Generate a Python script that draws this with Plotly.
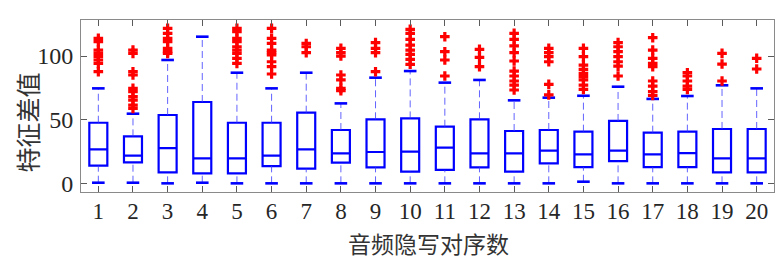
import plotly.graph_objects as go

pairs = list(range(1, 21))
tick_labels = [str(i) for i in pairs]
q1 = [13.9, 16.5, 8.6, 7.9, 7.9, 13.6, 11.5, 16.2, 12.6, 9.2, 10.5, 12.6, 9.2, 15.7, 12.8, 17.5, 12.8, 12.8, 8.6, 8.6]
median = [26.7, 21.7, 27.7, 19.6, 19.6, 21.7, 26.7, 23.6, 24.6, 24.9, 28.0, 23.6, 23.6, 25.7, 22.8, 25.7, 22.8, 23.8, 19.6, 19.6]
q3 = [47.6, 36.9, 53.7, 63.9, 47.6, 47.6, 55.5, 41.9, 50.3, 51.0, 44.5, 50.3, 41.1, 41.9, 40.6, 49.0, 39.8, 40.6, 42.7, 42.7]
whisker_low = [0.5, 0.5, 0.0, 0.5, 0.0, 0.0, 0.0, 0.0, 0.0, 0.0, 0.0, 0.0, 0.0, 0.0, 1.3, 0.0, 0.0, 0.0, 0.0, 0.0]
whisker_high = [74.6, 54.7, 96.9, 115.2, 86.9, 74.6, 86.9, 62.8, 83.0, 88.2, 79.1, 81.2, 65.2, 67.3, 68.8, 75.9, 66.3, 68.6, 77.0, 74.6]
outliers = [
    [113.9, 111.3, 104.7, 102.1, 99.5, 96.9, 94.2, 87.7],
    [104.7, 102.1, 87.7, 85.1, 74.6, 72.0, 68.1, 65.4, 61.5, 58.9],
    [121.7, 117.8, 113.9, 111.3, 106.0, 103.4, 102.1],
    [],
    [121.7, 119.1, 113.9, 111.3, 107.3, 104.7, 102.1, 98.2, 94.2],
    [121.7, 113.9, 109.9, 104.7, 102.6, 100.8, 95.5, 91.6, 85.9],
    [109.9, 107.3, 102.6],
    [106.0, 102.6, 100.0, 85.1, 81.2, 74.6, 72.8],
    [110.5, 106.0, 102.6, 87.7],
    [120.9, 117.8, 113.1, 108.6, 104.7, 101.3, 97.4, 93.5],
    [115.2, 103.4, 96.9, 84.3],
    [105.2, 99.0, 91.6],
    [117.8, 113.1, 107.9, 102.6, 96.1, 88.2, 84.3, 80.4, 77.2, 73.3],
    [106.0, 102.6, 99.5, 95.5, 77.7, 69.5],
    [106.0, 99.5, 92.9, 89.5, 86.4, 83.8, 81.2, 77.2, 73.8],
    [110.5, 107.3, 103.4, 99.5, 95.5, 92.1, 84.3],
    [114.4, 104.7, 98.2, 94.2, 91.6, 80.4, 76.4, 72.0, 69.0],
    [86.9, 84.3, 80.4, 76.4, 73.8],
    [102.1, 93.7, 80.4],
    [98.2, 89.8],
]
x_title = "音频隐写对序数"
y_title = "特征差值"

BLUE = "#0000ff"
RED = "#ff0000"

fig = go.Figure()

# dashed whiskers
wx, wy = [], []
for i, x in enumerate(pairs):
    wx += [x, x, None, x, x, None]
    wy += [q3[i], whisker_high[i], None, whisker_low[i], q1[i], None]
fig.add_trace(go.Scatter(x=wx, y=wy, mode="lines",
                         line=dict(color="rgba(60,60,255,0.8)", width=1, dash="7px,4px"),
                         hoverinfo="skip", showlegend=False))

# boxes
fig.add_trace(go.Box(x=pairs, q1=q1, median=median, q3=q3,
                     lowerfence=q1, upperfence=q3,
                     width=0.52, whiskerwidth=0,
                     line=dict(color=BLUE, width=2.2),
                     fillcolor="rgba(0,0,0,0)",
                     boxpoints=False, showlegend=False))

# caps
fig.add_trace(go.Scatter(x=pairs + pairs, y=whisker_high + whisker_low, mode="markers",
                         marker=dict(symbol="line-ew", size=9, color=BLUE,
                                     line=dict(color=BLUE, width=2.6)),
                         hoverinfo="skip", showlegend=False))

# outliers
ox, oy = [], []
for i, x in enumerate(pairs):
    for v in outliers[i]:
        ox.append(x)
        oy.append(v)
fig.add_trace(go.Scatter(x=ox, y=oy, mode="markers",
                         marker=dict(symbol="cross", size=8, color=RED, line=dict(width=0)),
                         hoverinfo="skip", showlegend=False))

axis_common = dict(showline=True, linecolor="#8a8a8a", linewidth=1, mirror="ticks",
                   ticks="inside", ticklen=6, tickcolor="#5a5a5a", tickwidth=1,
                   showgrid=False, zeroline=False)

fig.update_xaxes(range=[0.5, 20.5], tickvals=pairs, ticktext=tick_labels,
                 ticklabelstandoff=-2,
                 tickfont=dict(family="Liberation Serif", size=23, color="#262626"),
                 **axis_common)
fig.update_yaxes(range=[-6.8, 128.3], tickvals=[0, 50, 100], ticktext=["0", "50", "100"],
                 ticklabelstandoff=2,
                 tickfont=dict(family="Liberation Serif", size=24, color="#262626"),
                 **axis_common)

fig.add_annotation(text=x_title, xref="paper", yref="paper", x=0.501, y=-0.297,
                   xanchor="center", yanchor="middle", showarrow=False,
                   font=dict(family="Noto Sans CJK SC", size=23, color="#333333"))
fig.add_annotation(text=y_title, xref="paper", yref="paper", x=-0.0786, y=0.401,
                   xanchor="center", yanchor="middle", showarrow=False, textangle=-90,
                   font=dict(family="Noto Sans CJK SC", size=25, color="#333333"))

# page body has an 8px margin, so the figure is sized/offset to compensate
fig.update_layout(width=775, height=252,
                  margin=dict(l=72.5, r=9, t=12, b=68),
                  plot_bgcolor="white", paper_bgcolor="white",
                  showlegend=False)

fig.write_html("out.html")
